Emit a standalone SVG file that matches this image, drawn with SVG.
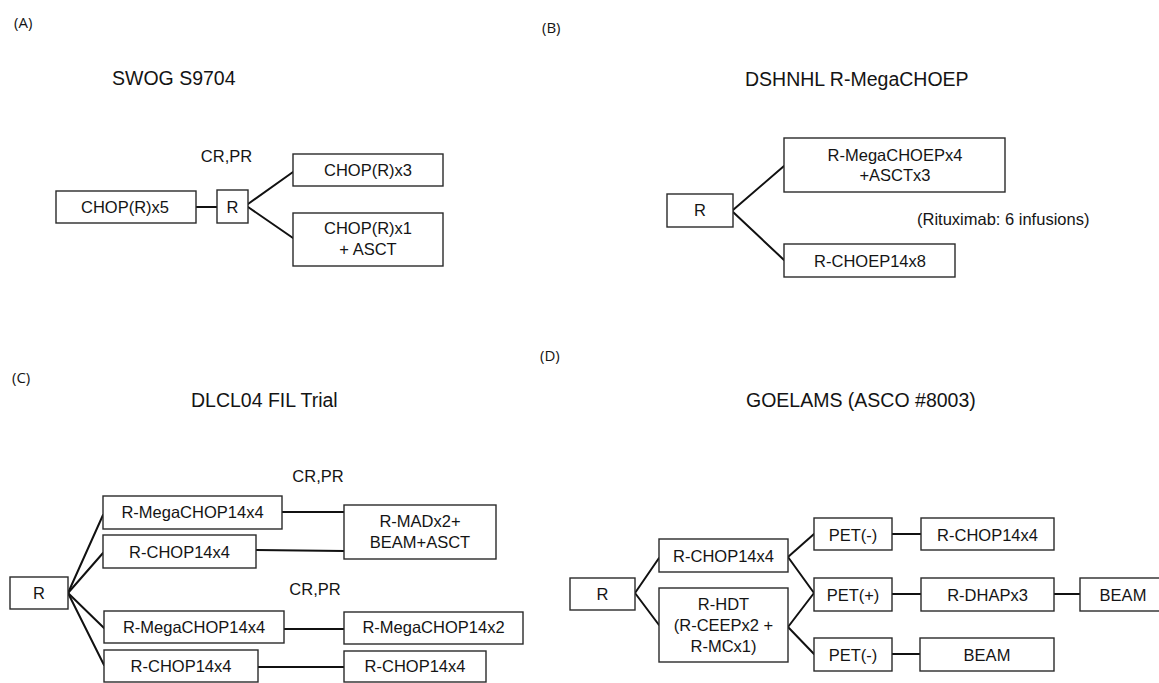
<svg xmlns="http://www.w3.org/2000/svg" width="1159" height="683" viewBox="0 0 1159 683">
  <style>
    .bg { fill: #ffffff; }
    .box { fill: #ffffff; stroke: #2a2a2a; stroke-width: 1.4; }
    .link { stroke: #111111; stroke-width: 2; fill: none; stroke-linecap: round; }
    .t { font-family: "Liberation Sans", Arial, sans-serif; font-size: 16.5px; fill: #141414; text-anchor: middle; }
    .note { font-family: "Liberation Sans", Arial, sans-serif; font-size: 16.5px; fill: #141414; }
    .title { font-family: "Liberation Sans", Arial, sans-serif; font-size: 19.5px; fill: #141414; }
    .panel { font-family: "Open Sans", "Liberation Sans", sans-serif; font-size: 15px; fill: #141414; }
  </style>
  <rect class="bg" x="0" y="0" width="1159" height="683"/>

  <!-- panel labels and titles -->
  <g id="labels">
    <text class="panel" x="14" y="28">(A)</text>
    <text class="panel" x="542" y="33">(B)</text>
    <text class="panel" x="12" y="383">(C)</text>
    <text class="panel" x="540" y="361">(D)</text>
    <text class="title" x="112" y="85">SWOG S9704</text>
    <text class="title" x="745" y="86">DSHNHL R-MegaCHOEP</text>
    <text class="title" x="191" y="407">DLCL04 FIL Trial</text>
    <text class="title" x="746" y="407">GOELAMS (ASCO #8003)</text>
  </g>

  <!-- connectors -->
  <g id="connectors">
    <!-- A -->
    <line class="link" x1="196" y1="207" x2="217" y2="207"/>
    <line class="link" x1="248" y1="204" x2="293" y2="172"/>
    <line class="link" x1="248" y1="207" x2="293" y2="238"/>
    <!-- B -->
    <line class="link" x1="733" y1="210" x2="784" y2="166"/>
    <line class="link" x1="733" y1="212" x2="784" y2="260"/>
    <!-- C -->
    <line class="link" x1="68" y1="593" x2="103" y2="515"/>
    <line class="link" x1="68" y1="593" x2="103" y2="553"/>
    <line class="link" x1="68" y1="593" x2="104" y2="628"/>
    <line class="link" x1="68" y1="593" x2="104" y2="665"/>
    <line class="link" x1="282" y1="512" x2="344" y2="512"/>
    <line class="link" x1="256" y1="550" x2="344" y2="551"/>
    <line class="link" x1="284" y1="629" x2="344" y2="629"/>
    <line class="link" x1="258" y1="667" x2="344" y2="667"/>
    <!-- D -->
    <line class="link" x1="635" y1="593" x2="659" y2="558"/>
    <line class="link" x1="635" y1="593" x2="659" y2="625"/>
    <line class="link" x1="788" y1="557" x2="814" y2="534"/>
    <line class="link" x1="788" y1="557" x2="814" y2="593"/>
    <line class="link" x1="788" y1="627" x2="814" y2="593"/>
    <line class="link" x1="788" y1="627" x2="814" y2="654"/>
    <line class="link" x1="892" y1="534" x2="921" y2="534"/>
    <line class="link" x1="892" y1="594" x2="921" y2="594"/>
    <line class="link" x1="892" y1="654" x2="920" y2="654"/>
    <line class="link" x1="1054" y1="594" x2="1080" y2="594"/>
  </g>

  <!-- A: SWOG S9704 -->
  <g id="a-chop5"><rect class="box" x="56" y="191" width="140" height="32"/><text class="t" x="125" y="213">CHOP(R)x5</text></g>
  <g id="a-r"><rect class="box" x="217" y="190" width="31" height="33"/><text class="t" x="232.5" y="213">R</text></g>
  <g id="a-crpr"><text class="t" x="226.5" y="162">CR,PR</text></g>
  <g id="a-chop3"><rect class="box" x="293" y="154" width="150" height="32"/><text class="t" x="368" y="176">CHOP(R)x3</text></g>
  <g id="a-chop1"><rect class="box" x="293" y="213" width="150" height="53"/><text class="t" x="368" y="234">CHOP(R)x1</text><text class="t" x="368" y="255">+ ASCT</text></g>

  <!-- B: DSHNHL R-MegaCHOEP -->
  <g id="b-r"><rect class="box" x="667" y="194" width="66" height="33"/><text class="t" x="700" y="216">R</text></g>
  <g id="b-mega"><rect class="box" x="784" y="138" width="221" height="54"/><text class="t" x="895" y="161">R-MegaCHOEPx4</text><text class="t" x="895" y="181">+ASCTx3</text></g>
  <g id="b-choep"><rect class="box" x="784" y="244" width="171" height="33"/><text class="t" x="870" y="267">R-CHOEP14x8</text></g>
  <g id="b-note"><text class="note" x="917" y="225">(Rituximab: 6 infusions)</text></g>

  <!-- C: DLCL04 FIL -->
  <g id="c-r"><rect class="box" x="10" y="577" width="58" height="32"/><text class="t" x="39" y="599">R</text></g>
  <g id="c-crpr1"><text class="t" x="318" y="482">CR,PR</text></g>
  <g id="c-crpr2"><text class="t" x="315" y="595">CR,PR</text></g>
  <g id="c-mega1"><rect class="box" x="103" y="496" width="179" height="33"/><text class="t" x="192.5" y="518">R-MegaCHOP14x4</text></g>
  <g id="c-chop1"><rect class="box" x="103" y="535" width="153" height="33"/><text class="t" x="179.5" y="558">R-CHOP14x4</text></g>
  <g id="c-mad"><rect class="box" x="344" y="505" width="152" height="54"/><text class="t" x="420" y="527">R-MADx2+</text><text class="t" x="420" y="548">BEAM+ASCT</text></g>
  <g id="c-mega2"><rect class="box" x="104" y="611" width="180" height="32"/><text class="t" x="194" y="633">R-MegaCHOP14x4</text></g>
  <g id="c-chop2"><rect class="box" x="104" y="650" width="154" height="32"/><text class="t" x="181" y="672">R-CHOP14x4</text></g>
  <g id="c-mega14x2"><rect class="box" x="344" y="612" width="179" height="32"/><text class="t" x="433.5" y="633">R-MegaCHOP14x2</text></g>
  <g id="c-chop3"><rect class="box" x="344" y="651" width="142" height="31"/><text class="t" x="415" y="672">R-CHOP14x4</text></g>

  <!-- D: GOELAMS -->
  <g id="d-r"><rect class="box" x="570" y="578" width="65" height="32"/><text class="t" x="602.5" y="600">R</text></g>
  <g id="d-chop"><rect class="box" x="659" y="539" width="129" height="33"/><text class="t" x="723.5" y="562">R-CHOP14x4</text></g>
  <g id="d-hdt"><rect class="box" x="659" y="588" width="129" height="74"/><text class="t" x="723.5" y="610">R-HDT</text><text class="t" x="723.5" y="631">(R-CEEPx2 +</text><text class="t" x="723.5" y="652">R-MCx1)</text></g>
  <g id="d-pet1"><rect class="box" x="814" y="518" width="78" height="32"/><text class="t" x="853" y="541">PET(-)</text></g>
  <g id="d-pet2"><rect class="box" x="814" y="578" width="78" height="33"/><text class="t" x="853" y="601">PET(+)</text></g>
  <g id="d-pet3"><rect class="box" x="814" y="638" width="78" height="33"/><text class="t" x="853" y="661">PET(-)</text></g>
  <g id="d-chop2"><rect class="box" x="921" y="518" width="133" height="32"/><text class="t" x="987.5" y="541">R-CHOP14x4</text></g>
  <g id="d-dhap"><rect class="box" x="921" y="578" width="133" height="33"/><text class="t" x="987.5" y="601">R-DHAPx3</text></g>
  <g id="d-beam1"><rect class="box" x="920" y="638" width="134" height="33"/><text class="t" x="987" y="661">BEAM</text></g>
  <g id="d-beam2"><rect class="box" x="1080" y="578" width="90" height="33"/><text class="t" x="1123" y="601">BEAM</text></g>
</svg>
